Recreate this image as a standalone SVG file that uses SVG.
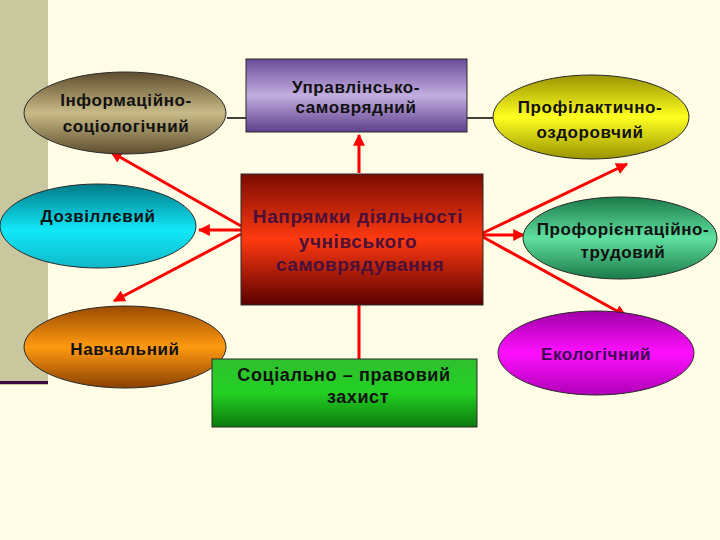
<svg xmlns="http://www.w3.org/2000/svg" width="720" height="540" viewBox="0 0 720 540">
<defs>
<linearGradient id="gBrown" x1="0" y1="0" x2="0" y2="1"><stop offset="0" stop-color="#5e4c2c"/><stop offset="0.5" stop-color="#c9bb88"/><stop offset="1" stop-color="#5e4c2c"/></linearGradient>
<linearGradient id="gPurple" x1="0" y1="0" x2="0" y2="1"><stop offset="0" stop-color="#6a4c98"/><stop offset="0.5" stop-color="#c2aee0"/><stop offset="1" stop-color="#5e3f8c"/></linearGradient>
<linearGradient id="gYellow" x1="0" y1="0" x2="0" y2="1"><stop offset="0" stop-color="#9a9400"/><stop offset="0.5" stop-color="#ffff20"/><stop offset="1" stop-color="#9a9400"/></linearGradient>
<linearGradient id="gCyan" x1="0" y1="0" x2="0" y2="1"><stop offset="0" stop-color="#007a88"/><stop offset="0.55" stop-color="#10e8f8"/><stop offset="1" stop-color="#10b8c8"/></linearGradient>
<linearGradient id="gRed" x1="0" y1="0" x2="0" y2="1"><stop offset="0" stop-color="#7a0c00"/><stop offset="0.5" stop-color="#ff3a10"/><stop offset="1" stop-color="#5a0000"/></linearGradient>
<linearGradient id="gTeal" x1="0" y1="0" x2="0" y2="1"><stop offset="0" stop-color="#1a7a48"/><stop offset="0.5" stop-color="#60e0a0"/><stop offset="1" stop-color="#1a7a48"/></linearGradient>
<linearGradient id="gOrange" x1="0" y1="0" x2="0" y2="1"><stop offset="0" stop-color="#9a4a00"/><stop offset="0.5" stop-color="#ff9a10"/><stop offset="1" stop-color="#8a4000"/></linearGradient>
<linearGradient id="gGreen" x1="0" y1="0" x2="0" y2="1"><stop offset="0" stop-color="#30c030"/><stop offset="0.5" stop-color="#22d022"/><stop offset="1" stop-color="#0c7a0c"/></linearGradient>
<linearGradient id="gMagenta" x1="0" y1="0" x2="0" y2="1"><stop offset="0" stop-color="#a000a8"/><stop offset="0.5" stop-color="#ff10ff"/><stop offset="1" stop-color="#b000b8"/></linearGradient>
<marker id="ah" viewBox="0 0 10 10" refX="9" refY="5" markerWidth="4" markerHeight="4" orient="auto" markerUnits="strokeWidth"><path d="M0,0 L10,5 L0,10 z" fill="#ff0000"/></marker>
</defs>
<style>
.t{font-family:"Liberation Sans",Arial,sans-serif;font-weight:bold;font-size:17px;text-anchor:middle;fill:#111;letter-spacing:0.6px}
.c{fill:#4a1038;font-size:19px}
.g{font-size:18px}
.sh{stroke:#2a2a2a;stroke-width:1}
.red{stroke:#ff0000;stroke-width:3;fill:none}
.blk{stroke:#000;stroke-width:1.5}
</style>
<rect width="720" height="540" fill="#fffde6"/>
<rect x="0" y="0" width="48" height="385" fill="#c9c79d"/>
<rect x="0" y="381" width="48" height="3" fill="#3a0a40"/>
<g id="connectors">
<line class="blk" x1="227" y1="118" x2="246" y2="118"/>
<line class="blk" x1="467" y1="118" x2="493" y2="118"/>
<line class="red" x1="359" y1="173" x2="359" y2="135" marker-end="url(#ah)"/>
<line class="red" x1="359" y1="305" x2="359" y2="359"/>
<line class="red" x1="241" y1="226" x2="111" y2="152" marker-end="url(#ah)"/>
<line class="red" x1="241" y1="230" x2="199" y2="230" marker-end="url(#ah)"/>
<line class="red" x1="241" y1="234" x2="114" y2="301" marker-end="url(#ah)"/>
<line class="red" x1="483" y1="233" x2="627" y2="164" marker-end="url(#ah)"/>
<line class="red" x1="483" y1="235" x2="524" y2="235" marker-end="url(#ah)"/>
<line class="red" x1="483" y1="237" x2="626" y2="316" marker-end="url(#ah)"/>
</g>
<g id="n-info"><ellipse class="sh" cx="125" cy="113" rx="101" ry="41" fill="url(#gBrown)"/><text class="t" x="126" y="106">Інформаційно-</text><text class="t" x="126" y="132">соціологічний</text></g>
<g id="n-upr"><rect class="sh" x="246" y="59" width="221" height="73" fill="url(#gPurple)"/><text class="t" x="356" y="93">Управлінсько-</text><text class="t" x="356" y="113">самоврядний</text></g>
<g id="n-prof"><ellipse class="sh" cx="591" cy="117" rx="98" ry="42" fill="url(#gYellow)"/><text class="t" x="590" y="113">Профілактично-</text><text class="t" x="590" y="138">оздоровчий</text></g>
<g id="n-doz"><ellipse class="sh" cx="98" cy="226" rx="98" ry="42" fill="url(#gCyan)"/><text class="t" x="98" y="222">Дозвіллєвий</text></g>
<g id="n-center"><rect class="sh" x="241" y="174" width="242" height="131" fill="url(#gRed)"/><text class="t c" x="358" y="223">Напрямки діяльності</text><text class="t c" x="358" y="248">учнівського</text><text class="t c" x="360" y="271">самоврядування</text></g>
<g id="n-proftr"><ellipse class="sh" cx="620" cy="238" rx="97" ry="41" fill="url(#gTeal)"/><text class="t" x="623" y="235">Профорієнтаційно-</text><text class="t" x="623" y="258">трудовий</text></g>
<g id="n-navch"><ellipse class="sh" cx="125" cy="347" rx="101" ry="41" fill="url(#gOrange)"/><text class="t" x="125" y="355">Навчальний</text></g>
<g id="n-soc"><rect class="sh" x="212" y="359" width="265" height="68" fill="url(#gGreen)"/><text class="t g" x="344" y="381">Соціально – правовий</text><text class="t g" x="358" y="403">захист</text></g>
<g id="n-eco"><ellipse class="sh" cx="596" cy="353" rx="98" ry="42" fill="url(#gMagenta)"/><text class="t" x="596" y="360" style="fill:#3a0a50">Екологічний</text></g>
</svg>
